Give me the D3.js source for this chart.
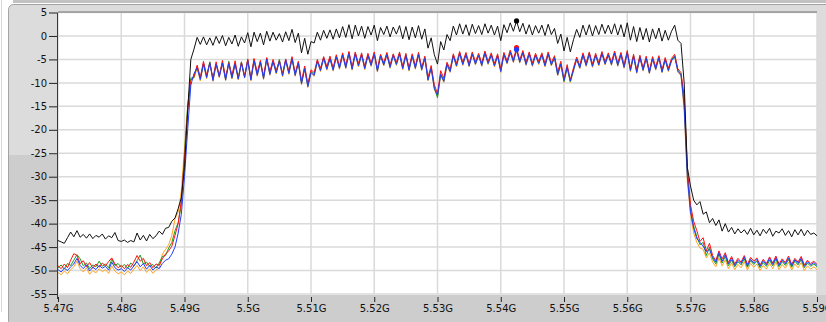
<!DOCTYPE html>
<html>
<head>
<meta charset="utf-8">
<script src="https://cdn.jsdelivr.net/npm/d3@7"></script>
<style>
  html, body { margin: 0; padding: 0; background: #fff; }
  svg { display: block; }
  text { font-family: "DejaVu Sans", Verdana, sans-serif; font-size: 10px; fill: #111; }
</style>
</head>
<body>
<div id="chart"></div>
<script>
// frequency grid of the trace (GHz)
const freqStart = 5.47;
const freqStep = 0.0005;

const xTickVals = [5.47, 5.48, 5.49, 5.50, 5.51, 5.52, 5.53, 5.54, 5.55, 5.56, 5.57, 5.58, 5.59];
const xTickLabels = ["5.47G", "5.48G", "5.49G", "5.5G", "5.51G", "5.52G", "5.53G", "5.54G", "5.55G", "5.56G", "5.57G", "5.58G", "5.59G"];
const yTickVals = [5, 0, -5, -10, -15, -20, -25, -30, -35, -40, -45, -50, -55];
const yTickLabels = ["5", "0", "-5", "-10", "-15", "-20", "-25", "-30", "-35", "-40", "-45", "-50", "-55"];

// traces (dBm), 241 points each
const blackTrace = [
  -43.6, -43.9, -44.2, -43.0, -41.8, -42.8, -41.5, -42.9, -42.3, -43.1, -42.2, -43.2, -42.5, -42.9, -42.2, -43.3, -42.6, -43.0, -41.9, -43.6,
  -43.8, -43.5, -44.0, -43.6, -43.9, -42.0, -43.5, -42.5, -43.7, -42.3, -43.2, -42.6, -41.6, -42.3, -41.0, -40.8, -39.5, -38.8, -36.8, -34.5,
  -28.0, -16.0, -5.0, -2.8, -0.3, -1.8, -0.2, -1.9, -0.4, -2.0, -0.1, -1.6, 0.1, -2.1, -0.3, -1.7, 0.2, -2.2, -0.2, -1.5,
  0.7, -2.3, 0.8, -1.2, 0.6, -1.9, 1.0, -1.1, 0.8, -0.9, 0.5, -1.3, 0.9, -1.0, 1.4, -1.4, 0.6, -3.6, -0.5, -3.9,
  -1.2, -1.5, 0.8, -0.9, 1.2, -0.5, 1.3, -0.7, 1.5, -0.4, 2.0, -0.3, 2.4, -0.6, 2.3, 0.0, 2.1, -0.5, 2.0, 0.2,
  2.3, -1.0, 1.8, 0.3, 2.1, -0.2, 1.9, 0.4, 2.2, -0.6, 2.0, -0.8, 1.9, -0.4, 2.2, -0.7, 1.5, -2.6, -0.4, -4.0,
  -6.0, -1.2, -3.0, 0.3, -1.0, 2.1, 0.2, 2.6, 0.4, 2.4, 0.1, 2.5, 0.5, 2.2, 0.3, 2.6, 0.6, 2.3, 0.2, 2.1,
  -1.0, 2.4, 0.7, 2.8, 1.0, 3.2, 0.9, 2.7, 0.4, 2.4, 0.2, 2.2, 0.6, 2.3, 0.1, 2.5, 0.3, 1.6, -1.6, 0.4,
  -3.2, -0.3, -3.4, -0.8, 1.4, -0.3, 2.3, 0.2, 2.4, 0.0, 2.2, 0.3, 2.5, 0.5, 2.3, 0.4, 2.6, 0.2, 2.4, -0.2,
  2.8, -0.9, 2.0, -1.2, 1.8, -0.8, 1.6, -1.3, 1.5, -0.6, 1.7, -1.1, 1.2, -0.9, 1.0, 2.3, -0.9, -1.6, -10.0, -28.0,
  -32.0, -35.0, -36.0, -35.3, -38.0, -37.5, -39.8, -38.9, -40.4, -39.2, -41.6, -40.0, -41.8, -40.8, -42.2, -41.1, -42.0, -41.3, -42.3, -41.0,
  -42.4, -41.4, -42.6, -41.2, -42.1, -41.0, -42.7, -41.6, -42.0, -41.1, -42.5, -41.5, -42.8, -41.3, -42.4, -41.2, -42.6, -41.4, -42.3, -42.0,
  -42.6
];

const redTrace = [
  -49.0, -49.6, -48.6, -49.4, -47.8, -46.4, -46.8, -48.5, -47.9, -49.2, -48.3, -49.5, -48.6, -49.3, -48.4, -49.0, -48.1, -47.3, -48.6, -49.4,
  -48.9, -49.6, -48.7, -49.3, -48.2, -46.8, -48.0, -47.4, -49.0, -48.3, -49.4, -48.6, -48.9, -47.5, -46.5, -45.8, -44.8, -42.5, -40.0, -35.0,
  -26.0, -16.0, -9.5, -8.7, -6.2, -8.8, -5.4, -8.4, -5.8, -9.0, -5.5, -8.6, -5.2, -8.9, -5.7, -8.4, -5.3, -9.1, -5.6, -8.5,
  -4.9, -9.0, -4.8, -7.8, -5.2, -8.6, -4.6, -7.6, -5.0, -7.4, -5.3, -8.0, -4.9, -7.5, -4.4, -7.9, -5.4, -9.6, -6.4, -10.2,
  -7.2, -7.8, -5.0, -6.9, -4.4, -6.5, -4.3, -6.8, -4.0, -6.4, -3.6, -6.3, -3.3, -6.6, -3.4, -5.9, -3.6, -6.5, -3.7, -5.8,
  -3.4, -7.0, -3.9, -5.7, -3.5, -6.2, -3.8, -5.6, -3.4, -6.5, -3.7, -6.8, -3.8, -6.4, -3.5, -6.7, -4.3, -8.8, -6.3, -10.4,
  -12.3, -7.4, -9.0, -5.6, -7.1, -3.8, -5.9, -3.3, -5.6, -3.5, -5.9, -3.4, -5.5, -3.7, -5.8, -3.2, -5.4, -3.6, -5.9, -3.8,
  -7.0, -3.5, -5.3, -3.0, -5.0, -2.5, -5.1, -3.1, -5.6, -3.4, -5.8, -3.7, -5.4, -3.6, -5.9, -3.4, -5.7, -4.2, -7.6, -5.4,
  -9.2, -6.1, -9.4, -6.8, -4.5, -6.3, -3.6, -5.8, -3.4, -6.0, -3.7, -5.7, -3.3, -5.5, -3.6, -5.6, -3.2, -5.8, -3.5, -6.2,
  -3.1, -6.9, -3.9, -7.3, -4.1, -6.8, -4.3, -7.4, -4.4, -6.6, -4.2, -7.2, -4.6, -6.9, -4.8, -3.9, -7.0, -7.8, -13.0, -28.0,
  -36.0, -39.5, -41.5, -43.8, -43.0, -45.8, -44.2, -46.8, -47.9, -45.8, -47.5, -46.2, -48.3, -47.0, -48.6, -47.4, -48.2, -46.8, -48.7, -47.2,
  -48.0, -47.3, -48.8, -47.6, -48.5, -47.1, -48.4, -46.9, -48.6, -47.5, -48.3, -46.9, -48.7, -47.4, -48.2, -47.0, -48.8, -47.8, -48.5, -48.0,
  -48.7
];

const greenTrace = [
  -49.4, -48.8, -49.7, -48.5, -48.9, -47.8, -46.6, -47.5, -49.0, -48.4, -49.6, -48.8, -49.2, -48.0, -49.1, -48.6, -49.4, -47.6, -48.9, -48.5,
  -49.3, -48.7, -49.5, -48.4, -49.0, -47.9, -46.7, -48.6, -48.2, -49.1, -48.7, -49.5, -48.4, -47.0, -46.8, -45.2, -44.0, -41.5, -39.8, -36.0,
  -25.0, -15.0, -9.0, -8.8, -6.5, -9.1, -5.8, -8.7, -5.5, -9.3, -5.9, -8.4, -5.6, -9.2, -5.4, -8.8, -5.8, -8.9, -5.5, -8.7,
  -5.1, -9.2, -5.0, -8.1, -5.5, -8.9, -4.8, -7.9, -5.3, -7.7, -5.0, -8.3, -5.2, -7.8, -4.7, -8.2, -5.6, -10.0, -6.8, -10.6,
  -7.5, -8.2, -5.3, -7.2, -4.6, -6.9, -4.6, -7.1, -4.3, -6.7, -3.9, -6.6, -3.5, -6.9, -3.7, -6.2, -3.9, -6.8, -4.0, -6.1,
  -3.7, -7.3, -4.1, -6.0, -3.8, -6.5, -4.0, -5.9, -3.7, -6.8, -4.0, -7.1, -4.1, -6.7, -3.8, -7.0, -4.6, -9.2, -6.7, -11.0,
  -13.2, -8.0, -9.5, -5.9, -7.4, -4.1, -6.2, -3.6, -5.9, -3.8, -6.2, -3.7, -5.8, -4.0, -6.1, -3.5, -5.7, -3.9, -6.2, -4.1,
  -7.4, -3.8, -5.6, -3.3, -5.3, -3.0, -5.4, -3.4, -5.9, -3.7, -6.1, -4.0, -5.7, -3.9, -6.2, -3.7, -6.0, -4.5, -8.1, -5.8,
  -9.7, -6.5, -9.8, -7.1, -4.8, -6.6, -3.9, -6.1, -3.7, -6.3, -4.0, -6.0, -3.6, -5.8, -3.9, -5.9, -3.5, -6.1, -3.8, -6.5,
  -3.4, -7.2, -4.2, -7.6, -4.4, -7.1, -4.6, -7.7, -4.7, -6.9, -4.5, -7.5, -4.9, -7.2, -5.1, -4.2, -7.3, -8.1, -14.0, -29.0,
  -37.0, -40.5, -42.8, -44.5, -44.0, -46.8, -45.0, -47.5, -48.6, -46.5, -48.4, -47.0, -49.0, -47.8, -49.2, -48.1, -48.8, -47.5, -49.3, -47.9,
  -48.7, -48.0, -49.4, -48.3, -49.1, -47.8, -49.0, -47.6, -49.2, -48.1, -48.9, -47.6, -49.3, -48.0, -48.8, -47.7, -49.4, -48.4, -49.1, -48.6,
  -49.2
];

const blueTrace = [
  -49.8, -50.3, -49.5, -50.0, -49.2, -48.6, -47.4, -48.9, -49.6, -48.8, -50.1, -49.3, -49.8, -48.9, -49.5, -49.1, -49.9, -48.2, -49.4, -49.9,
  -49.6, -50.2, -49.4, -49.9, -49.0, -48.1, -49.2, -48.5, -49.7, -48.9, -49.9, -49.2, -49.6, -48.5, -47.8, -47.5, -46.5, -45.0, -42.0, -38.0,
  -30.0, -20.0, -10.5, -8.0, -6.8, -9.3, -6.0, -8.9, -5.7, -9.5, -6.1, -8.7, -5.8, -9.4, -5.9, -9.0, -6.0, -9.2, -5.8, -8.9,
  -5.3, -9.4, -5.3, -8.4, -5.6, -9.1, -5.0, -8.2, -5.5, -7.9, -5.4, -8.5, -5.1, -8.0, -4.9, -8.4, -5.8, -10.2, -7.0, -10.8,
  -7.8, -8.4, -5.5, -7.4, -4.8, -7.1, -4.9, -7.3, -4.5, -6.9, -4.1, -6.8, -3.8, -7.1, -3.9, -6.4, -4.1, -7.0, -4.2, -6.3,
  -3.9, -7.5, -4.3, -6.2, -4.0, -6.7, -4.2, -6.1, -3.9, -7.0, -4.2, -7.3, -4.3, -6.9, -4.0, -7.2, -4.8, -9.4, -6.9, -11.2,
  -12.6, -8.2, -9.7, -6.1, -7.6, -4.3, -6.4, -3.8, -6.1, -4.0, -6.4, -3.9, -6.0, -4.2, -6.3, -3.7, -5.9, -4.1, -6.4, -4.3,
  -7.6, -4.0, -5.8, -3.5, -5.5, -2.9, -5.6, -3.6, -6.1, -3.9, -6.3, -4.2, -5.9, -4.1, -6.4, -3.9, -6.2, -4.7, -8.3, -6.0,
  -9.5, -6.7, -9.6, -7.3, -5.0, -6.8, -4.1, -6.3, -3.9, -6.5, -4.2, -6.2, -3.8, -6.0, -4.1, -6.1, -3.7, -6.3, -4.0, -6.7,
  -3.6, -7.4, -4.4, -7.8, -4.6, -7.3, -4.8, -7.9, -4.9, -7.1, -4.7, -7.7, -5.1, -7.4, -5.3, -4.4, -7.5, -8.3, -15.0, -30.0,
  -37.5, -41.0, -43.2, -44.0, -44.8, -46.0, -45.5, -47.2, -48.2, -46.2, -48.0, -46.6, -48.6, -47.4, -48.9, -47.8, -48.5, -47.1, -49.0, -47.6,
  -48.4, -47.6, -49.1, -47.9, -48.8, -47.4, -48.7, -47.3, -48.9, -47.8, -48.6, -47.3, -49.0, -47.7, -48.5, -47.4, -49.1, -48.1, -48.8, -48.3,
  -48.9
];

const orangeTrace = [
  -50.4, -50.9, -50.1, -50.7, -49.8, -49.2, -48.0, -49.6, -50.3, -49.4, -50.8, -50.0, -50.5, -49.6, -50.2, -49.8, -50.6, -49.0, -50.1, -50.7,
  -50.3, -50.9, -50.1, -50.6, -49.7, -48.9, -50.0, -49.2, -50.4, -49.6, -50.6, -49.9, -49.5, -46.5, -45.5, -44.5, -42.5, -39.0, -37.5, -33.0,
  -24.0, -15.0, -9.2, -9.0, -6.8, -9.6, -6.0, -9.1, -5.6, -9.7, -6.0, -8.9, -5.7, -9.6, -5.6, -9.2, -6.0, -9.4, -5.7, -9.0,
  -5.2, -9.6, -5.1, -8.6, -5.6, -9.3, -4.9, -8.4, -5.4, -8.1, -5.2, -8.7, -5.3, -8.2, -4.8, -8.6, -5.7, -10.4, -6.9, -11.0,
  -7.9, -8.6, -5.4, -7.6, -4.7, -7.3, -4.7, -7.5, -4.4, -7.1, -4.0, -7.0, -3.6, -7.3, -3.8, -6.6, -4.0, -7.2, -4.1, -6.5,
  -3.8, -7.7, -4.2, -6.4, -3.9, -6.9, -4.1, -6.3, -3.8, -7.2, -4.1, -7.5, -4.2, -7.1, -3.9, -7.4, -4.7, -9.6, -6.8, -11.4,
  -12.9, -8.4, -9.9, -6.3, -7.8, -4.2, -6.6, -3.7, -6.3, -3.9, -6.6, -3.8, -6.2, -4.1, -6.5, -3.6, -6.1, -4.0, -6.6, -4.2,
  -7.8, -3.9, -6.0, -3.4, -5.7, -3.1, -5.8, -3.5, -6.3, -3.8, -6.5, -4.1, -6.1, -4.0, -6.6, -3.8, -6.4, -4.6, -8.5, -6.2,
  -9.9, -6.9, -9.9, -7.5, -4.9, -7.0, -4.0, -6.5, -3.8, -6.7, -4.1, -6.4, -3.7, -6.2, -4.0, -6.3, -3.6, -6.5, -3.9, -6.9,
  -3.5, -7.6, -4.3, -8.0, -4.5, -7.5, -4.7, -8.1, -4.8, -7.3, -4.6, -7.9, -5.0, -7.6, -5.2, -4.3, -7.7, -8.5, -16.0, -31.0,
  -38.0, -42.0, -44.0, -45.2, -45.5, -47.3, -46.2, -48.2, -49.2, -47.3, -49.0, -47.7, -49.6, -48.4, -49.8, -48.7, -49.4, -48.1, -49.9, -48.5,
  -49.3, -48.6, -50.0, -48.9, -49.7, -48.4, -49.6, -48.2, -49.8, -48.7, -49.5, -48.2, -49.9, -48.6, -49.4, -48.3, -50.0, -49.0, -49.7, -49.2,
  -49.8
];

// marker position (GHz)
const markerFreq = 5.5425;

const W = 826, H = 322;
const plotL = 58, plotR = 817, plotT = 12.5, plotB = 294;

const svg = d3.select("#chart").append("svg")
  .attr("width", W)
  .attr("height", H);

// panel / frame
svg.append("rect").attr("x", 0).attr("y", 0).attr("width", W).attr("height", H).attr("fill", "#fff");
svg.append("line")
  .attr("x1", 1.5).attr("x2", 1.5).attr("y1", 0).attr("y2", 312)
  .attr("stroke", "#d6d6d6");
svg.append("rect")
  .attr("x", 8.5).attr("y", 4.5).attr("width", W).attr("height", H)
  .attr("rx", 5)
  .attr("fill", "#dcdcdc")
  .attr("stroke", "#a3a3a3");
// darker lower part of the left panel and bottom axis strip
svg.append("rect").attr("x", 9).attr("y", 155).attr("width", plotL - 9).attr("height", H - 155).attr("fill", "#cdcdcd");
svg.append("rect").attr("x", 9).attr("y", plotB + 1).attr("width", W).attr("height", H - plotB).attr("fill", "#cdcdcd");
// top band
svg.append("rect").attr("x", 13).attr("y", 0).attr("width", W).attr("height", 3).attr("fill", "#c2c2c2");

// plot area
svg.append("rect")
  .attr("x", plotL).attr("y", plotT)
  .attr("width", plotR - plotL).attr("height", plotB - plotT + 1)
  .attr("fill", "#fff");

const x = d3.scaleLinear().domain([5.47, 5.59]).range([plotL, plotR]);
const y = d3.scaleLinear().domain([-55, 5]).range([plotB, plotT]);

// grid
const grid = svg.append("g");
grid.selectAll(".hg").data(yTickVals).enter().append("line")
  .attr("x1", plotL).attr("x2", plotR)
  .attr("y1", d => y(d)).attr("y2", d => y(d))
  .attr("stroke", "#dadada").attr("stroke-width", 1.5);
grid.selectAll(".vg").data(xTickVals).enter().append("line")
  .attr("x1", d => x(d)).attr("x2", d => x(d))
  .attr("y1", plotT).attr("y2", plotB)
  .attr("stroke", "#dadada").attr("stroke-width", 1.5);

// plot borders
svg.append("line").attr("x1", plotL).attr("x2", plotR).attr("y1", plotT - 0.5).attr("y2", plotT - 0.5)
  .attr("stroke", "#6e6e6e").attr("stroke-width", 1.2);
svg.append("line").attr("x1", plotL - 0.5).attr("x2", plotL - 0.5).attr("y1", plotT).attr("y2", plotB + 5)
  .attr("stroke", "#3a3a3a");

// axes
const yAxis = d3.axisLeft(y)
  .tickValues(yTickVals)
  .tickSize(8)
  .tickPadding(2)
  .tickFormat((d, i) => yTickLabels[i]);

const yg = svg.append("g")
  .attr("transform", "translate(" + (plotL - 1) + ",0)")
  .call(yAxis);
yg.select(".domain").remove();
yg.selectAll("line").attr("stroke", "#222");
yg.selectAll("text").attr("fill", "#111").style("font-size", "10px").style("font-family", "DejaVu Sans");

const xAxis = d3.axisBottom(x)
  .tickValues(xTickVals)
  .tickSize(5)
  .tickPadding(3)
  .tickFormat((d, i) => xTickLabels[i]);

const xg = svg.append("g")
  .attr("transform", "translate(0," + (plotB + 3) + ")")
  .call(xAxis);
xg.select(".domain").remove();
xg.selectAll("line").attr("stroke", "#222");
xg.selectAll("text").attr("fill", "#111").style("font-size", "10px").style("font-family", "DejaVu Sans");

// traces
svg.append("clipPath").attr("id", "clip")
  .append("rect").attr("x", plotL).attr("y", plotT).attr("width", plotR - plotL).attr("height", plotB - plotT + 1);

const line = d3.line()
  .x((d, i) => x(freqStart + i * freqStep))
  .y(d => y(d));

const traces = [
  { vals: orangeTrace, color: "#ffa21f" },
  { vals: greenTrace, color: "#1b9e1b" },
  { vals: redTrace, color: "#ff1010" },
  { vals: blueTrace, color: "#1f3dff" },
  { vals: blackTrace, color: "#111" }
];

const tg = svg.append("g").attr("clip-path", "url(#clip)");
tg.selectAll("path").data(traces).enter().append("path")
  .attr("d", d => line(d.vals))
  .attr("fill", "none")
  .attr("stroke", d => d.color)
  .attr("stroke-width", 1)
  .attr("stroke-linejoin", "round");

// markers
const mi = Math.round((markerFreq - freqStart) / freqStep);
const markers = [
  { v: redTrace[mi], color: "#ff1010" },
  { v: blueTrace[mi], color: "#1f3dff" },
  { v: blackTrace[mi], color: "#000" }
];
svg.selectAll(".marker").data(markers).enter().append("circle")
  .attr("cx", x(markerFreq))
  .attr("cy", d => y(d.v))
  .attr("r", 2.6)
  .attr("fill", d => d.color);
</script>
</body>
</html>
